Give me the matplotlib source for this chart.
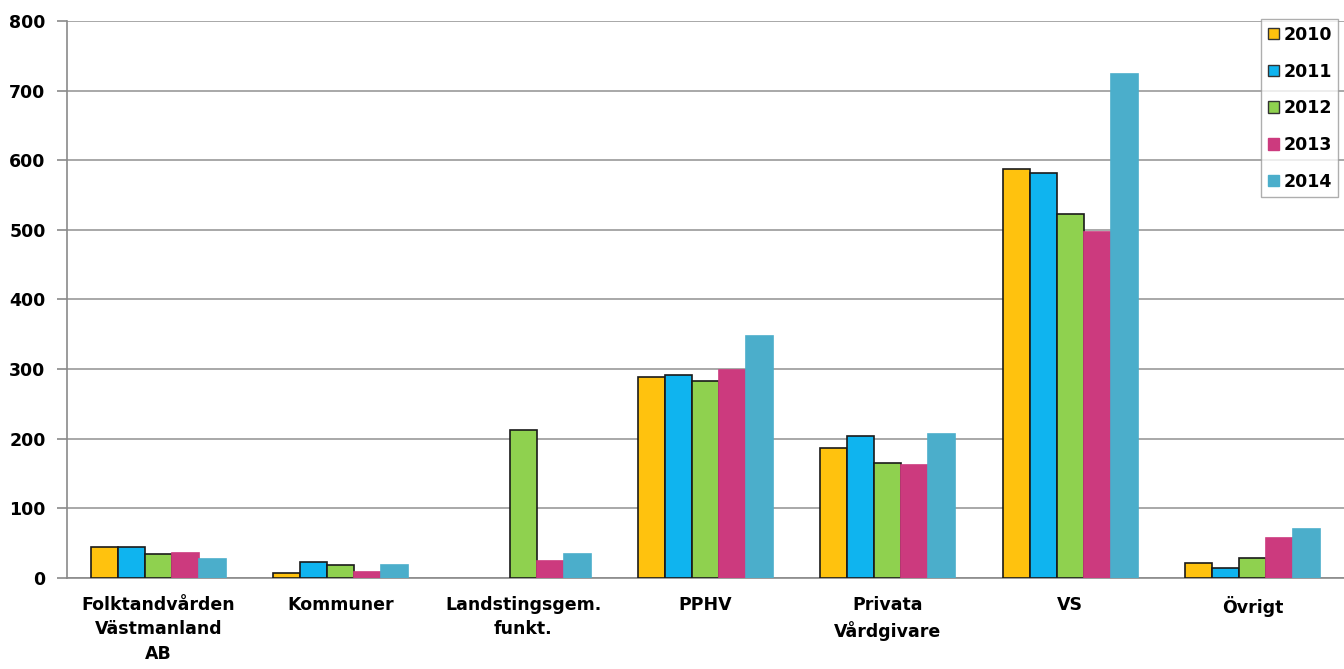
import numpy as np
import matplotlib
matplotlib.use("Agg")
import matplotlib.pyplot as plt
from matplotlib.patches import Patch

plt.rcParams['font.family'] = ['DejaVu Sans']

categories = ["Folktandvården\nVästmanland\nAB", "Kommuner", "Landstingsgem.\nfunkt.",
              "PPHV", "Privata\nVårdgivare", "VS", "Övrigt"]
years = ["2010", "2011", "2012", "2013", "2014"]

v2010 = [45, 7, 0, 288, 187, 587, 21]
v2011 = [45, 23, 0, 291, 204, 581, 14]
v2012 = [34, 18, 212, 283, 165, 522, 29]
v2013 = [36, 9, 25, 299, 162, 497, 57]
v2014 = [27, 19, 35, 348, 207, 723, 71]
series = [v2010, v2011, v2012, v2013, v2014]

colors = ["#FFC20E", "#0FB4EF", "#8FD14F", "#CC3A7E", "#4BAECB"]
edges = ["#1a1a1a", "#1a1a1a", "#1a1a1a", "#CC3A7E", "#4BAECB"]

fig = plt.figure(figsize=(13.44, 6.69), dpi=100)
ax = fig.add_axes([0.0499, 0.136, 0.9501, 0.8328])

x = np.arange(len(categories))
w = 0.148
for i, (vals, c, e) in enumerate(zip(series, colors, edges)):
    lws = [1.2 if v > 0 else 0 for v in vals]
    ax.bar(x + (i - 2) * w, vals, width=w, color=c, edgecolor=e, linewidth=lws, zorder=3)

ax.set_xlim(-0.5, len(categories) - 0.5)
ax.set_ylim(0, 800)
ax.set_yticks(range(0, 801, 100))
ax.yaxis.grid(True, color="#9a9a9a", linewidth=1.2, zorder=0)
ax.set_axisbelow(True)
for s in ["top", "right"]:
    ax.spines[s].set_visible(False)
ax.spines["left"].set_color("#8a8a8a")
ax.spines["left"].set_linewidth(1.2)
ax.spines["bottom"].set_color("#8a8a8a")
ax.spines["bottom"].set_linewidth(1.2)
ax.tick_params(axis="y", length=7, color="#8a8a8a", width=1.2, pad=8.5, labelsize=12.5)
ax.tick_params(axis="x", length=0, pad=13, labelsize=12.5)
ax.set_xticks(x)
ax.set_xticklabels(categories, fontweight="bold", linespacing=1.45)
for lab in ax.get_yticklabels():
    lab.set_fontweight("bold")

handles = [Patch(facecolor=c, edgecolor=("#333333" if i < 3 else c), linewidth=1)
           for i, c in enumerate(colors)]
leg = ax.legend(handles, years, loc="upper right", bbox_to_anchor=(0.9955, 1.003),
                frameon=True, fancybox=False, handlelength=0.65, handleheight=0.65,
                handletextpad=0.25, labelspacing=1.08, borderpad=0.38,
                borderaxespad=0.0, prop={"weight": "bold", "size": 12.5})
leg.get_frame().set_edgecolor("#9a9a9a")
leg.get_frame().set_linewidth(1.0)

fig.savefig("out.png", dpi=100)
